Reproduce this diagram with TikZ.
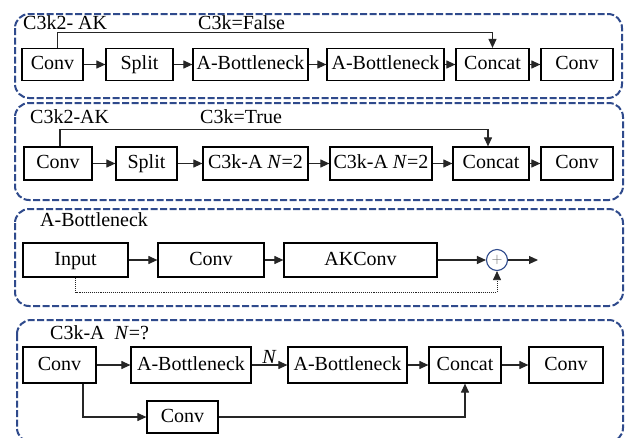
\documentclass[tikz,border=0pt]{standalone}
\usepackage{fontspec}
\setmainfont{Liberation Serif}
\usetikzlibrary{arrows.meta}
\definecolor{panelblue}{RGB}{47,74,140}

\begin{document}
\begin{tikzpicture}[x=1pt, y=-1pt, font=\fontsize{20}{24}\selectfont,
    box/.style={draw, rectangle, line width=1.2pt, inner sep=0pt, text height=12pt, text depth=1.5pt,
        minimum height=32pt},
    panel/.style={draw=panelblue, line width=2pt, dash pattern=on 7pt off 2.5pt, rounded corners=14pt},
    arr/.style={draw=black!85, line width=1.1pt, -{Triangle[length=9pt,width=8pt]}},
    lbl/.style={anchor=west, inner sep=0pt}]
    \clip (0,0) rectangle (627,437);
    \fill[white] (0,0) rectangle (627,437);

    % dashed frames
    \draw[panel] (15,14) rectangle (622,98);
    \draw[panel] (15,103) rectangle (623,200);
    \draw[panel] (15,209) rectangle (623,306);
    \draw[panel] (17,320) rectangle (623,442);

    % C3k2-AK, C3k=False
    \node[lbl] (t1) at (23,23) {C3k2- AK};
    \node[lbl] (f1) at (198,23) {C3k=False};
    \foreach \n/\x/\w/\t in {a1/52.5/61/Conv, a2/139.5/67/Split, a3/250.5/115/A-Bottleneck,
        a4/385.5/117/A-Bottleneck, a5/492.5/73/Concat, a6/577/72/Conv}
        \node[box, minimum width=\w pt] (\n) at (\x,64.5) {\t};
    \foreach \a/\b in {a1/a2, a2/a3, a3/a4, a4/a5, a5/a6} \draw[arr] (\a) -- (\b);
    \draw[arr] ([xshift=5pt]a1.north) -- ++(0,-15.5) -| (a5.north);

    % C3k2-AK, C3k=True
    \node[lbl] (t2) at (30,117) {C3k2-AK};
    \node[lbl] (f2) at (200,117) {C3k=True};
    \foreach \n/\x/\w/\t in {b1/58/68/Conv, b2/146.5/61/Split, b3/255.5/105/{C3k-A \textit{N}=2},
        b4/381/102/{C3k-A \textit{N}=2}, b5/491/76/Concat, b6/577/72/Conv}
        \node[box, minimum width=\w pt, minimum height=33pt] (\n) at (\x,163.5) {\t};
    \foreach \a/\b in {b1/b2, b2/b3, b3/b4, b4/b5, b5/b6} \draw[arr] (\a) -- (\b);
    \draw[arr] ([xshift=2pt]b1.north) -- ++(0,-16.5) -| ([xshift=-3pt]b5.north);

    % A-Bottleneck
    \node[lbl] (t3) at (40,220) {A-Bottleneck};
    \foreach \n/\x/\w/\t in {i1/75.5/105/Input, i2/211/106/Conv, i3/360.5/153/AKConv}
        \node[box, minimum width=\w pt, minimum height=34pt] (\n) at (\x,260) {\t};
    \node[circle, draw=panelblue, line width=1.1pt, minimum size=21pt, inner sep=0pt,
        text=black!60, font=\fontsize{15}{15}\selectfont] (sum) at (497,260) {$+$};
    \coordinate (out) at (538,260);
    \draw[arr] (i1) -- (i2);
    \draw[arr] (i2) -- (i3);
    \draw[arr] (i3) -- (sum);
    \draw[arr] (sum) -- (out);
    \draw[arr, densely dotted, line width=0.8pt] (i1.south) -- ++(0,15) -| (sum.south);

    % C3k-A N=?
    \node[lbl] (t4) at (50,333) {C3k-A \ \textit{N}=?};
    \foreach \n/\x/\w/\t in {c1/59.5/73/Conv, c2/191/120/A-Bottleneck, c3/347.5/119/A-Bottleneck,
        c4/465/72/Concat, c5/566/74/Conv}
        \node[box, minimum width=\w pt, minimum height=36pt] (\n) at (\x,365) {\t};
    \node[box, minimum width=71pt] (c6) at (182.5,417) {Conv};
    \draw[arr] (c1) -- (c2);
    \draw[arr] (c2) -- node[above, inner sep=1pt] {\textit{N}} (c3);
    \draw[arr] (c3) -- (c4);
    \draw[arr] (c4) -- (c5);
    \draw[arr] ([xshift=23.5pt]c1.south) |- (c6.west);
    \draw[arr] (c6.east) -| (c4.south);
\end{tikzpicture}
\end{document}
